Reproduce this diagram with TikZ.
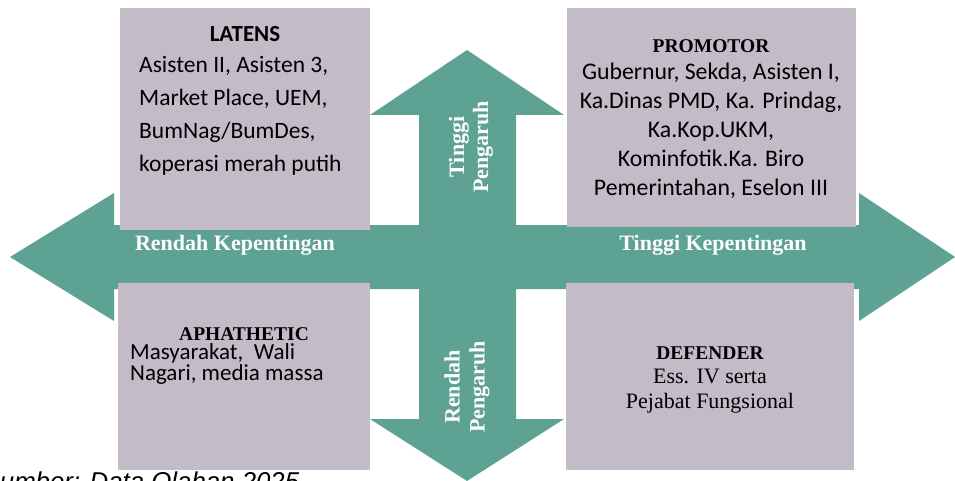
\documentclass[tikz,border=0pt]{standalone}
\usepackage{fontspec}
\setmainfont{Liberation Serif}
\newfontfamily\calibrifont{Carlito}
\newfontfamily\arialfont{Liberation Sans}
\usepackage{tikz}
\definecolor{arrowgreen}{RGB}{94,162,148}
\definecolor{boxlilac}{RGB}{195,187,200}

\begin{document}
\begin{tikzpicture}[x=1pt, y=-1pt]
		\tikzset{quad/.style={draw=none, fill=boxlilac, rectangle, inner sep=0pt}}
		\tikzset{headline/.style={font=\fontsize{19.5}{22}\selectfont\bfseries, inner sep=0pt}}
		\tikzset{sanstext/.style={font=\calibrifont\fontsize{23.5}{33.3}\selectfont, inner sep=0pt}}
		\tikzset{axislabel/.style={text=white, font=\fontsize{22}{24}\selectfont\bfseries, inner sep=0pt}}
		\useasboundingbox (0,0) rectangle (955,481);
		\clip (0,0) rectangle (955,481);
		% the cross of four arrows
		\fill[arrowgreen] (10,257) -- (114,193) -- (114,225) -- (419,225) -- (419,115) -- (370,115) -- (467,50) -- (564,115) -- (516,115) -- (516,225) -- (859,225) -- (859,193) -- (955,257) -- (859,321) -- (859,289) -- (516,289) -- (516,419) -- (564,419) -- (467,481) -- (370,419) -- (419,419) -- (419,289) -- (114,289) -- (114,321) -- cycle;
		\node[axislabel, anchor=base] (lowint) at (235,250) {Rendah Kepentingan};
		\node[axislabel, anchor=base] (highint) at (713,250) {Tinggi Kepentingan};
		\node[axislabel, rotate=90, align=center] (highinf) at (471,147) {Tinggi\\Pengaruh};
		\node[axislabel, rotate=90, align=center, font=\fontsize{22}{25}\selectfont\bfseries] (lowinf) at (467,387) {Rendah\\Pengaruh};
		% the four quadrants (multi-line texts sit on their last baseline)
		\node[quad, minimum width=250pt, minimum height=222pt] (latens) at (245,119) {};
		\node[quad, minimum width=289pt, minimum height=219pt] (promotor) at (711.5,117.5) {};
		\node[quad, minimum width=252pt, minimum height=187pt] (aphathetic) at (244,376.5) {};
		\node[quad, minimum width=288pt, minimum height=187pt] (defender) at (710,376.5) {};
		\node[sanstext, font=\calibrifont\fontsize{23}{26}\selectfont\bfseries, anchor=base] (latens-h) at (245,42) {LATENS};
		\node[sanstext, anchor=base west, align=left] (latens-t) at (139,172) {Asisten II, Asisten 3,\\Market Place, UEM,\\BumNag/BumDes,\\koperasi merah putih};
		\node[headline, anchor=base] (promotor-h) at (711,53) {PROMOTOR};
		\node[sanstext, font=\calibrifont\fontsize{23.8}{29}\selectfont, anchor=base, align=center] (promotor-t) at (711,196) {Gubernur, Sekda, Asisten I,\\Ka.Dinas PMD, Ka. Prindag,\\Ka.Kop.UKM,\\Kominfotik.Ka. Biro\\Pemerintahan, Eselon III};
		\node[headline, anchor=base] (aphathetic-h) at (244,340.7) {APHATHETIC};
		\node[sanstext, font=\calibrifont\fontsize{23}{17.5}\selectfont, anchor=base west, align=left] (aphathetic-t) at (130,380.2) {Masyarakat,~ Wali\\Nagari, media massa};
		\node[headline, anchor=base] (defender-h) at (710,359.3) {DEFENDER};
		\node[font=\fontsize{22}{25}\selectfont, inner sep=0pt, anchor=base, align=center] (defender-t) at (710,408.3) {Ess. IV serta\\Pejabat Fungsional};
		\node[font=\arialfont\itshape\fontsize{25.8}{28}\selectfont, inner sep=0pt, anchor=base west] (source) at (-17.5,490.5) {Sumber: Data Olahan 2025};
\end{tikzpicture}
\end{document}
